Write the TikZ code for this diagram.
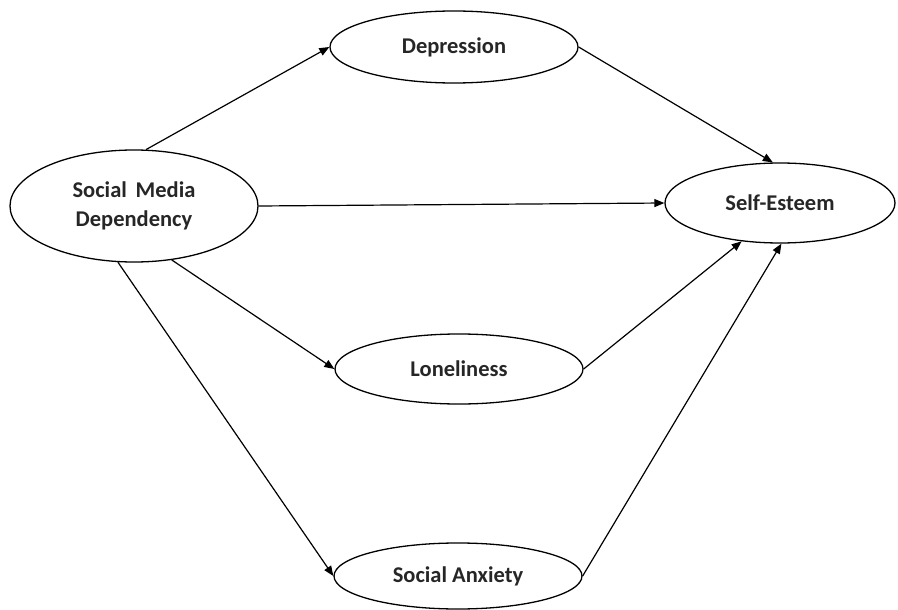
\documentclass[tikz,border=0pt]{standalone}
\usepackage{fontspec}
\setmainfont{Carlito}
\usetikzlibrary{shapes.geometric,arrows.meta}
\begin{document}
\begin{tikzpicture}[x=1pt,y=-1pt,
  oval/.style={ellipse, draw=black, line width=1.3pt, inner sep=0pt, align=center,
    font=\fontsize{22.5}{29}\selectfont\bfseries, text=black!85},
  link/.style={line width=1.2pt, -{Triangle[length=10pt,width=8pt]}}]
\useasboundingbox (0,0) rectangle (898,610);
\node[oval, minimum width=248pt, minimum height=112pt] (smd) at (134,206) {Social\, Media\\Dependency};
\node[oval, minimum width=248pt, minimum height=72pt] (dep) at (454,47) {Depression};
\node[oval, minimum width=230pt, minimum height=80pt] (ses) at (780,203) {Self-Esteem};
\node[oval, minimum width=248pt, minimum height=70pt] (lon) at (459,369) {Loneliness};
\node[oval, minimum width=248pt, minimum height=66pt] (sa) at (458,576) {Social Anxiety};
\draw[link] (smd.78) -- (dep.west);
\draw[link] (dep.east) -- (ses.100);
\draw[link] (smd.east) -- (ses.west);
\draw[link] (smd.-55) -- (lon.west);
\draw[link] (smd.-106) -- (sa.west);
\draw[link] (lon.east) -- (ses.-135);
\draw[link] (sa.east) -- (ses.-88);
\end{tikzpicture}
\end{document}
